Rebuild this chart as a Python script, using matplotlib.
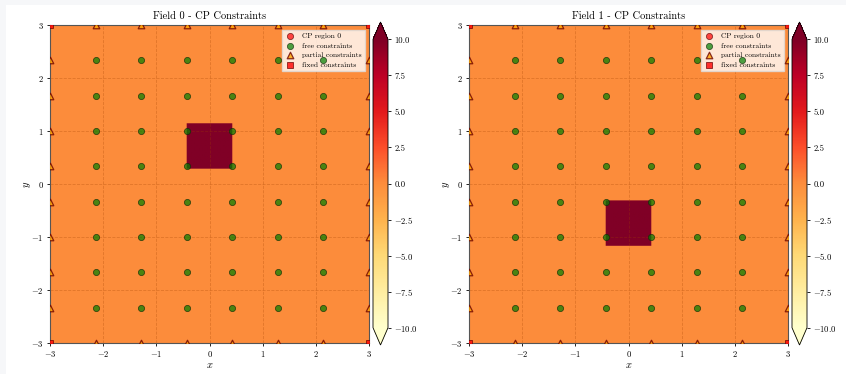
import numpy as np
import matplotlib
matplotlib.use('Agg')
import matplotlib.pyplot as plt
from matplotlib.patches import Rectangle

plt.rcParams['font.family'] = 'serif'
plt.rcParams['font.serif'] = ['cmr10', 'DejaVu Serif']
plt.rcParams['mathtext.fontset'] = 'cm'
plt.rcParams['axes.formatter.use_mathtext'] = True
plt.rcParams['axes.unicode_minus'] = True

# data
titles = ['Field 0 - CP Constraints', 'Field 1 - CP Constraints']
x_nodes = np.linspace(-3, 3, 8)
y_nodes = np.linspace(-3, 3, 10)
background_value = 0.0
cp_value = 10.0
# CP region extents (xmin, xmax, ymin, ymax) per field
cp_regions = [(-0.43, 0.43, 0.29, 1.14), (-0.43, 0.43, -1.16, -0.31)]
cbar_ticks = [-10.0, -7.5, -5.0, -2.5, 0.0, 2.5, 5.0, 7.5, 10.0]
legend_labels = ['CP region 0', 'free constraints', 'partial constraints', 'fixed constraints']

W, H = 846, 374
fig = plt.figure(figsize=(W / 100, H / 100), dpi=100)
fig.patch.set_facecolor('#f6f7f9')
fig.patches.append(Rectangle((6 / W, 0), 1, (H - 5) / H, transform=fig.transFigure,
                             facecolor='white', edgecolor='none', zorder=-1))

# node classification
X, Y = np.meshgrid(x_nodes, y_nodes)
on_x = np.isclose(np.abs(X), 3)
on_y = np.isclose(np.abs(Y), 3)
fixed = on_x & on_y
partial = (on_x | on_y) & ~fixed
free = ~(on_x | on_y)

gx = np.linspace(-3, 3, 301)
GX, GY = np.meshgrid(gx, gx)

ax_lefts = [50, 469]
cb_lefts = [373, 792]
for i in range(2):
    ax = fig.add_axes([ax_lefts[i] / W, (H - 343) / H, 319 / W, 318 / H])
    x0, x1, y0, y1 = cp_regions[i]
    field = np.full(GX.shape, background_value)
    field[(GX >= x0) & (GX <= x1) & (GY >= y0) & (GY <= y1)] = cp_value
    im = ax.imshow(field, extent=[-3, 3, -3, 3], origin='lower', cmap='YlOrRd',
                   vmin=-10, vmax=10, interpolation='bilinear', aspect='auto')
    ax.scatter([], [], c='red', s=20, edgecolors='#5a0000', linewidths=0.6,
               alpha=0.7, label=legend_labels[0])
    sc_free = ax.scatter(X[free], Y[free], c='green', s=20, edgecolors='#0d2a05',
                         linewidths=0.6, alpha=0.7, zorder=6, label=legend_labels[1])
    sc_part = ax.scatter(X[partial], Y[partial], c='orange', marker='^', s=22,
                         edgecolors='#6a0000', linewidths=0.9, alpha=0.8, zorder=6,
                         label=legend_labels[2])
    sc_fix = ax.scatter(X[fixed], Y[fixed], c='red', marker='s', s=22,
                        edgecolors='#6a0000', linewidths=0.6, alpha=0.8, zorder=6,
                        label=legend_labels[3])
    for sc in (sc_free, sc_part, sc_fix):
        sc.set_clip_box(ax.bbox)
        sc.set_clip_path(ax.patch)
    ax.set_xlim(-3, 3)
    ax.set_ylim(-3, 3)
    ax.set_xticks(range(-3, 4))
    ax.set_yticks(range(-3, 4))
    ax.grid(True, linestyle='--', linewidth=0.6, alpha=0.3, color='#a04000')
    ax.tick_params(labelsize=6.2, length=2.5, width=0.6, pad=2)
    for s in ax.spines.values():
        s.set_linewidth(0.8)
        s.set_color('#555555')
    ax.set_xlabel('$x$', fontsize=7.5, labelpad=1)
    ax.set_ylabel('$y$', fontsize=7.5, labelpad=-1)
    ax.set_title(titles[i], fontsize=7.5, pad=4)
    ax.legend(loc='upper right', fontsize=5.4, framealpha=0.8, borderpad=0.45,
              handletextpad=0.9, labelspacing=0.45, handlelength=1.3,
              fancybox=False, edgecolor='#dddddd', borderaxespad=0.6)

    cax = fig.add_axes([cb_lefts[i] / W, (H - 345) / H, 15 / W, 323 / H])
    cb = fig.colorbar(im, cax=cax, extend='both', extendfrac=0.06, ticks=cbar_ticks)
    cb.ax.tick_params(labelsize=6.2, length=2.5, width=0.6, pad=2)
    cb.ax.yaxis.set_major_formatter(matplotlib.ticker.FuncFormatter(
        lambda v, p: ('$-$' if v < 0 else '') + '%.1f' % abs(v)))
    cb.outline.set_linewidth(0.6)

fig.savefig('out.png', dpi=100, facecolor=fig.get_facecolor())
